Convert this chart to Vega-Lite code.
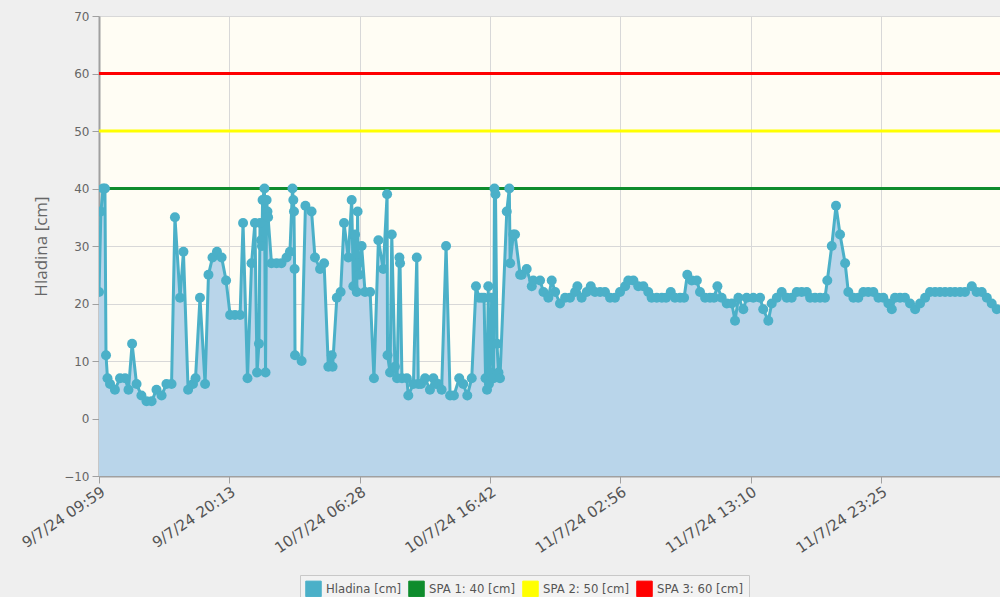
{
  "$schema": "https://vega.github.io/schema/vega-lite/v6.json",
  "width": 901,
  "height": 460,
  "autosize": {"type": "none"},
  "padding": {"left": 99, "top": 16, "right": 0, "bottom": 121},
  "background": "#efefef",
  "config": {
    "view": {"fill": "#fffdf4", "stroke": null},
    "axis": {"gridColor": "#d8d8d8", "gridWidth": 1, "domainColor": "#a0a0a0", "domainWidth": 2, "tickColor": "#a0a0a0", "tickSize": 7, "labelColor": "#666666"},
    "legend": {"title": null}
  },
  "datasets": {
    "hladina": [
      {"t":"2024-07-09T09:59","h":22},{"t":"2024-07-09T10:08","h":36},{"t":"2024-07-09T10:18","h":40},{"t":"2024-07-09T10:27","h":40},{"t":"2024-07-09T10:32","h":11},{"t":"2024-07-09T10:39","h":7},{"t":"2024-07-09T10:51","h":6},{"t":"2024-07-09T11:14","h":5},{"t":"2024-07-09T11:38","h":7},{"t":"2024-07-09T12:02","h":7},
      {"t":"2024-07-09T12:18","h":5},{"t":"2024-07-09T12:35","h":13},{"t":"2024-07-09T12:56","h":6},{"t":"2024-07-09T13:19","h":4},{"t":"2024-07-09T13:43","h":3},{"t":"2024-07-09T14:07","h":3},{"t":"2024-07-09T14:30","h":5},{"t":"2024-07-09T14:54","h":4},{"t":"2024-07-09T15:17","h":6},{"t":"2024-07-09T15:41","h":6},
      {"t":"2024-07-09T15:57","h":35},{"t":"2024-07-09T16:21","h":21},{"t":"2024-07-09T16:37","h":29},{"t":"2024-07-09T16:59","h":5},{"t":"2024-07-09T17:22","h":6},{"t":"2024-07-09T17:34","h":7},{"t":"2024-07-09T17:55","h":21},{"t":"2024-07-09T18:19","h":6},{"t":"2024-07-09T18:35","h":25},{"t":"2024-07-09T18:54","h":28},
      {"t":"2024-07-09T19:15","h":29},{"t":"2024-07-09T19:37","h":28},{"t":"2024-07-09T19:58","h":24},{"t":"2024-07-09T20:17","h":18},{"t":"2024-07-09T20:40","h":18},{"t":"2024-07-09T21:04","h":18},{"t":"2024-07-09T21:18","h":34},{"t":"2024-07-09T21:39","h":7},{"t":"2024-07-09T21:58","h":27},{"t":"2024-07-09T22:14","h":34},
      {"t":"2024-07-09T22:24","h":8},{"t":"2024-07-09T22:33","h":13},{"t":"2024-07-09T22:38","h":34},{"t":"2024-07-09T22:43","h":31},{"t":"2024-07-09T22:47","h":30},{"t":"2024-07-09T22:50","h":38},{"t":"2024-07-09T22:59","h":40},{"t":"2024-07-09T23:04","h":8},{"t":"2024-07-09T23:09","h":38},{"t":"2024-07-09T23:13","h":36},
      {"t":"2024-07-09T23:16","h":35},{"t":"2024-07-09T23:32","h":27},{"t":"2024-07-09T23:56","h":27},{"t":"2024-07-10T00:19","h":27},{"t":"2024-07-10T00:43","h":28},{"t":"2024-07-10T00:59","h":29},{"t":"2024-07-10T01:11","h":40},{"t":"2024-07-10T01:15","h":38},{"t":"2024-07-10T01:18","h":36},{"t":"2024-07-10T01:21","h":26},
      {"t":"2024-07-10T01:23","h":11},{"t":"2024-07-10T01:54","h":10},{"t":"2024-07-10T02:12","h":37},{"t":"2024-07-10T02:41","h":36},{"t":"2024-07-10T02:57","h":28},{"t":"2024-07-10T03:21","h":26},{"t":"2024-07-10T03:40","h":27},{"t":"2024-07-10T04:00","h":9},{"t":"2024-07-10T04:16","h":11},{"t":"2024-07-10T04:20","h":9},
      {"t":"2024-07-10T04:40","h":21},{"t":"2024-07-10T04:58","h":22},{"t":"2024-07-10T05:14","h":34},{"t":"2024-07-10T05:34","h":28},{"t":"2024-07-10T05:50","h":38},{"t":"2024-07-10T05:58","h":23},{"t":"2024-07-10T06:06","h":32},{"t":"2024-07-10T06:14","h":22},{"t":"2024-07-10T06:18","h":36},{"t":"2024-07-10T06:21","h":27},
      {"t":"2024-07-10T06:25","h":25},{"t":"2024-07-10T06:37","h":30},{"t":"2024-07-10T06:53","h":22},{"t":"2024-07-10T07:17","h":22},{"t":"2024-07-10T07:35","h":7},{"t":"2024-07-10T07:56","h":31},{"t":"2024-07-10T08:19","h":26},{"t":"2024-07-10T08:37","h":39},{"t":"2024-07-10T08:39","h":11},{"t":"2024-07-10T08:51","h":8},
      {"t":"2024-07-10T08:59","h":32},{"t":"2024-07-10T09:14","h":9},{"t":"2024-07-10T09:24","h":7},{"t":"2024-07-10T09:35","h":28},{"t":"2024-07-10T09:38","h":27},{"t":"2024-07-10T09:47","h":7},{"t":"2024-07-10T10:10","h":7},{"t":"2024-07-10T10:17","h":4},{"t":"2024-07-10T10:41","h":6},{"t":"2024-07-10T10:57","h":28},
      {"t":"2024-07-10T11:04","h":6},{"t":"2024-07-10T11:17","h":6},{"t":"2024-07-10T11:36","h":7},{"t":"2024-07-10T11:59","h":5},{"t":"2024-07-10T12:15","h":7},{"t":"2024-07-10T12:28","h":6},{"t":"2024-07-10T12:38","h":6},{"t":"2024-07-10T12:54","h":5},{"t":"2024-07-10T13:15","h":30},{"t":"2024-07-10T13:34","h":4},
      {"t":"2024-07-10T13:52","h":4},{"t":"2024-07-10T14:17","h":7},{"t":"2024-07-10T14:36","h":6},{"t":"2024-07-10T14:55","h":4},{"t":"2024-07-10T15:16","h":7},{"t":"2024-07-10T15:36","h":23},{"t":"2024-07-10T15:50","h":21},{"t":"2024-07-10T16:03","h":21},{"t":"2024-07-10T16:14","h":21},{"t":"2024-07-10T16:21","h":7},
      {"t":"2024-07-10T16:28","h":5},{"t":"2024-07-10T16:34","h":23},{"t":"2024-07-10T16:37","h":6},{"t":"2024-07-10T16:42","h":8},{"t":"2024-07-10T16:50","h":21},{"t":"2024-07-10T16:54","h":13},{"t":"2024-07-10T16:59","h":7},{"t":"2024-07-10T17:03","h":40},{"t":"2024-07-10T17:08","h":39},{"t":"2024-07-10T17:15","h":13},
      {"t":"2024-07-10T17:22","h":8},{"t":"2024-07-10T17:29","h":7},{"t":"2024-07-10T18:01","h":36},{"t":"2024-07-10T18:13","h":40},{"t":"2024-07-10T18:17","h":27},{"t":"2024-07-10T18:32","h":32},{"t":"2024-07-10T18:40","h":32},{"t":"2024-07-10T19:04","h":25},{"t":"2024-07-10T19:12","h":25},{"t":"2024-07-10T19:35","h":26},
      {"t":"2024-07-10T19:59","h":23},{"t":"2024-07-10T20:06","h":24},{"t":"2024-07-10T20:38","h":24},{"t":"2024-07-10T20:54","h":22},{"t":"2024-07-10T21:17","h":21},{"t":"2024-07-10T21:33","h":24},{"t":"2024-07-10T21:49","h":22},{"t":"2024-07-10T22:12","h":20},{"t":"2024-07-10T22:36","h":21},{"t":"2024-07-10T22:59","h":21},
      {"t":"2024-07-10T23:23","h":22},{"t":"2024-07-10T23:34","h":23},{"t":"2024-07-10T23:54","h":21},{"t":"2024-07-11T00:18","h":22},{"t":"2024-07-11T00:37","h":23},{"t":"2024-07-11T00:57","h":22},{"t":"2024-07-11T01:21","h":22},{"t":"2024-07-11T01:44","h":22},{"t":"2024-07-11T02:08","h":21},{"t":"2024-07-11T02:31","h":21},
      {"t":"2024-07-11T02:55","h":22},{"t":"2024-07-11T03:19","h":23},{"t":"2024-07-11T03:34","h":24},{"t":"2024-07-11T03:58","h":24},{"t":"2024-07-11T04:21","h":23},{"t":"2024-07-11T04:45","h":23},{"t":"2024-07-11T05:08","h":22},{"t":"2024-07-11T05:24","h":21},{"t":"2024-07-11T05:48","h":21},{"t":"2024-07-11T06:12","h":21},
      {"t":"2024-07-11T06:32","h":21},{"t":"2024-07-11T06:54","h":22},{"t":"2024-07-11T07:14","h":21},{"t":"2024-07-11T07:38","h":21},{"t":"2024-07-11T07:57","h":21},{"t":"2024-07-11T08:12","h":25},{"t":"2024-07-11T08:33","h":24},{"t":"2024-07-11T08:57","h":24},{"t":"2024-07-11T09:12","h":22},{"t":"2024-07-11T09:36","h":21},
      {"t":"2024-07-11T09:59","h":21},{"t":"2024-07-11T10:18","h":21},{"t":"2024-07-11T10:34","h":23},{"t":"2024-07-11T10:54","h":21},{"t":"2024-07-11T11:18","h":20},{"t":"2024-07-11T11:42","h":20},{"t":"2024-07-11T11:57","h":17},{"t":"2024-07-11T12:13","h":21},{"t":"2024-07-11T12:36","h":19},{"t":"2024-07-11T12:52","h":21},
      {"t":"2024-07-11T13:23","h":21},{"t":"2024-07-11T13:55","h":21},{"t":"2024-07-11T14:10","h":19},{"t":"2024-07-11T14:34","h":17},{"t":"2024-07-11T14:50","h":20},{"t":"2024-07-11T15:14","h":21},{"t":"2024-07-11T15:37","h":22},{"t":"2024-07-11T16:01","h":21},{"t":"2024-07-11T16:24","h":21},{"t":"2024-07-11T16:48","h":22},
      {"t":"2024-07-11T17:11","h":22},{"t":"2024-07-11T17:35","h":22},{"t":"2024-07-11T17:51","h":21},{"t":"2024-07-11T18:14","h":21},{"t":"2024-07-11T18:38","h":21},{"t":"2024-07-11T19:01","h":21},{"t":"2024-07-11T19:12","h":24},{"t":"2024-07-11T19:33","h":30},{"t":"2024-07-11T19:53","h":37},{"t":"2024-07-11T20:12","h":32},
      {"t":"2024-07-11T20:36","h":27},{"t":"2024-07-11T20:51","h":22},{"t":"2024-07-11T21:15","h":21},{"t":"2024-07-11T21:38","h":21},{"t":"2024-07-11T22:02","h":22},{"t":"2024-07-11T22:25","h":22},{"t":"2024-07-11T22:49","h":22},{"t":"2024-07-11T23:13","h":21},{"t":"2024-07-11T23:36","h":21},{"t":"2024-07-12T00:00","h":20},
      {"t":"2024-07-12T00:16","h":19},{"t":"2024-07-12T00:31","h":21},{"t":"2024-07-12T00:55","h":21},{"t":"2024-07-12T01:18","h":21},{"t":"2024-07-12T01:42","h":20},{"t":"2024-07-12T02:06","h":19},{"t":"2024-07-12T02:29","h":20},{"t":"2024-07-12T02:53","h":21},{"t":"2024-07-12T03:16","h":22},{"t":"2024-07-12T03:40","h":22},
      {"t":"2024-07-12T04:03","h":22},{"t":"2024-07-12T04:27","h":22},{"t":"2024-07-12T04:51","h":22},{"t":"2024-07-12T05:14","h":22},{"t":"2024-07-12T05:38","h":22},{"t":"2024-07-12T06:01","h":22},{"t":"2024-07-12T06:33","h":23},{"t":"2024-07-12T06:56","h":22},{"t":"2024-07-12T07:20","h":22},{"t":"2024-07-12T07:44","h":21},
      {"t":"2024-07-12T08:07","h":20},{"t":"2024-07-12T08:31","h":19},{"t":"2024-07-12T09:00","h":19}
    ],
    "spa": [
      {"lvl": 40, "s": "SPA 1: 40 [cm]"},
      {"lvl": 50, "s": "SPA 2: 50 [cm]"},
      {"lvl": 60, "s": "SPA 3: 60 [cm]"}
    ]
  },
  "layer": [
    {
      "data": {"name": "hladina"},
      "mark": {"type": "area", "color": "#b9d5ea", "opacity": 1, "clip": true},
      "encoding": {
        "x": {
          "field": "t", "type": "temporal", "title": null,
          "scale": {"domain": [{"year": 2024, "month": 7, "date": 9, "hours": 9, "minutes": 59}, {"year": 2024, "month": 7, "date": 12, "hours": 8, "minutes": 46}]},
          "axis": {
            "values": [
              {"year": 2024, "month": 7, "date": 9, "hours": 9, "minutes": 59},
              {"year": 2024, "month": 7, "date": 9, "hours": 20, "minutes": 13},
              {"year": 2024, "month": 7, "date": 10, "hours": 6, "minutes": 28},
              {"year": 2024, "month": 7, "date": 10, "hours": 16, "minutes": 42},
              {"year": 2024, "month": 7, "date": 11, "hours": 2, "minutes": 56},
              {"year": 2024, "month": 7, "date": 11, "hours": 13, "minutes": 10},
              {"year": 2024, "month": 7, "date": 11, "hours": 23, "minutes": 25}
            ],
            "format": "%-d/%-m/%y %H:%M",
            "labelAngle": -34, "labelAlign": "right", "labelBaseline": "top", "labelPadding": 1,
            "labelFont": "DejaVu Sans", "labelFontSize": 15, "labelColor": "#555555",
            "labelOverlap": false, "labelBound": false, "labelFlush": false
          }
        },
        "y": {
          "field": "h", "type": "quantitative",
          "scale": {"domain": [-10, 70], "nice": false, "zero": false},
          "axis": {
            "values": [-10, 0, 10, 20, 30, 40, 50, 60, 70],
            "title": "Hladina [cm]", "titleFont": "Open Sans", "titleFontSize": 17, "titleFontWeight": "normal", "titleColor": "#666666", "titlePadding": 13,
            "labelFont": "DejaVu Sans", "labelFontSize": 12, "labelPadding": 3
          }
        },
        "y2": {"datum": -10}
      }
    },
    {
      "data": {"name": "hladina"},
      "mark": {"type": "line", "strokeWidth": 3, "clip": true},
      "encoding": {
        "x": {"field": "t", "type": "temporal"},
        "y": {"field": "h", "type": "quantitative"},
        "color": {
          "datum": "Hladina [cm]", "type": "nominal",
          "scale": {"domain": ["Hladina [cm]", "SPA 1: 40 [cm]", "SPA 2: 50 [cm]", "SPA 3: 60 [cm]"], "range": ["#4bb0c8", "#0e8c2c", "#ffff00", "#ff0000"]},
          "legend": {
            "title": null, "orient": "none", "direction": "horizontal", "legendX": 201, "legendY": 559,
            "labelFont": "DejaVu Sans", "labelFontSize": 11.7, "labelColor": "#555555",
            "symbolType": "square", "symbolSize": 240, "symbolStrokeWidth": 1, "labelOffset": 4, "columnPadding": 4,
            "padding": 5, "strokeColor": "#c8c8c8", "fillColor": "#f2f2f2",
            "encode": {"symbols": {"update": {"fill": {"scale": "color", "field": "value"}, "stroke": {"value": "#a8a8a8"}, "strokeWidth": {"value": 1}, "opacity": {"value": 1}, "shape": {"value": "square"}, "size": {"value": 240}}}}
          }
        }
      }
    },
    {
      "data": {"name": "spa"},
      "mark": {"type": "rule", "strokeWidth": 3},
      "encoding": {
        "y": {"field": "lvl", "type": "quantitative"},
        "color": {"field": "s", "type": "nominal", "title": null}
      }
    },
    {
      "data": {"name": "hladina"},
      "mark": {"type": "point", "filled": true, "size": 100, "opacity": 1, "clip": true},
      "encoding": {
        "x": {"field": "t", "type": "temporal"},
        "y": {"field": "h", "type": "quantitative"},
        "color": {"datum": "Hladina [cm]", "type": "nominal", "title": null}
      }
    },
    {
      "mark": {"type": "rule", "color": "#a0a0a0", "strokeWidth": 2.5},
      "encoding": {"y": {"datum": 70}}
    }
  ]
}
